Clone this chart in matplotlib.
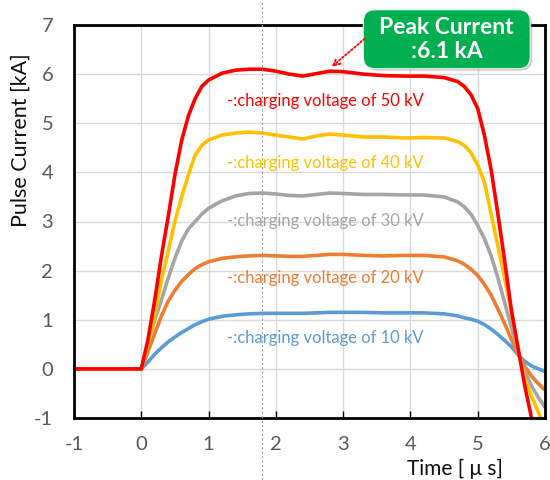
import matplotlib
matplotlib.use("Agg")
import matplotlib.pyplot as plt
from matplotlib.patches import FancyBboxPatch
from matplotlib.lines import Line2D

plt.rcParams['font.family'] = ['Lato', 'DejaVu Sans']

# ---- data ----
time_us = [-1.0, 0.0, 0.1, 0.2, 0.3, 0.4, 0.5, 0.6, 0.7, 0.8, 0.9, 1.0, 1.2, 1.4, 1.6,
           1.8, 2.0, 2.2, 2.4, 2.6, 2.8, 3.0, 3.3, 3.6, 3.9, 4.2, 4.5, 4.7, 4.8, 4.9,
           5.0, 5.1, 5.2, 5.3, 5.4, 5.5, 5.6, 5.7, 5.8, 5.9, 6.0]

i_50kv = [0, 0, 0.6, 1.4, 2.3, 3.1, 3.95, 4.65, 5.15, 5.5, 5.75, 5.88, 6.02, 6.08, 6.1,
          6.1, 6.06, 6.0, 5.96, 6.01, 6.06, 6.05, 6.0, 5.97, 5.96, 5.96, 5.93, 5.85, 5.75, 5.58,
          5.3, 4.75, 4.05, 3.15, 2.2, 1.2, 0.42, -0.35, -1.0, -1.6, -2.1]
i_40kv = [0, 0, 0.5, 1.1, 1.8, 2.4, 3.0, 3.5, 3.95, 4.35, 4.55, 4.66, 4.76, 4.8, 4.82,
          4.8, 4.76, 4.72, 4.68, 4.74, 4.78, 4.76, 4.72, 4.72, 4.7, 4.71, 4.7, 4.63, 4.55, 4.4,
          4.15, 3.8, 3.15, 2.5, 1.85, 1.15, 0.4, -0.2, -0.55, -0.88, -1.2]
i_30kv = [0, 0, 0.5, 1.0, 1.4, 1.85, 2.25, 2.6, 2.85, 3.0, 3.15, 3.27, 3.42, 3.52, 3.57,
          3.58, 3.56, 3.53, 3.52, 3.55, 3.58, 3.57, 3.55, 3.55, 3.54, 3.54, 3.5, 3.4, 3.3, 3.15,
          2.92, 2.65, 2.3, 1.85, 1.35, 0.85, 0.35, -0.05, -0.35, -0.58, -0.78]
i_20kv = [0, 0, 0.35, 0.72, 1.08, 1.38, 1.6, 1.78, 1.92, 2.04, 2.12, 2.18, 2.25, 2.28, 2.3,
          2.31, 2.3, 2.29, 2.29, 2.31, 2.33, 2.33, 2.31, 2.3, 2.31, 2.31, 2.28, 2.2, 2.13, 2.03,
          1.9, 1.72, 1.5, 1.22, 0.92, 0.6, 0.3, 0.05, -0.15, -0.3, -0.43]
i_10kv = [0, 0, 0.14, 0.3, 0.43, 0.55, 0.65, 0.74, 0.82, 0.9, 0.96, 1.01, 1.07, 1.1, 1.12,
          1.13, 1.13, 1.13, 1.13, 1.14, 1.15, 1.15, 1.15, 1.14, 1.14, 1.14, 1.12, 1.08, 1.04, 1.01,
          0.97, 0.9, 0.81, 0.7, 0.58, 0.45, 0.29, 0.15, 0.06, 0.0, -0.05]

series_labels = ["-:charging voltage of 10 kV", "-:charging voltage of 20 kV",
                 "-:charging voltage of 30 kV", "-:charging voltage of 40 kV",
                 "-:charging voltage of 50 kV"]
series_values = [i_10kv, i_20kv, i_30kv, i_40kv, i_50kv]
series_colors = ["#5B9BD5", "#ED7D31", "#A5A5A5", "#FFC000", "#FF0000"]
label_y = [0.63, 1.84, 3.02, 4.2, 5.45]

x_ticks = [-1, 0, 1, 2, 3, 4, 5, 6]
y_ticks = [-1, 0, 1, 2, 3, 4, 5, 6, 7]
marker_time = 1.8
peak_point = (2.83, 6.15)
peak_text = "Peak Current\n:6.1 kA"

# ---- figure ----
fig = plt.figure(figsize=(5.5, 4.8), dpi=100)
ax = fig.add_axes([74 / 550, 62 / 480, 471 / 550, 393 / 480])

for vals, col, lab, ly in zip(series_values, series_colors, series_labels, label_y):
    ax.plot(time_us, vals, color=col, lw=2.6, solid_capstyle='round', zorder=3)
    ax.text(1.27, ly, lab, color=col, fontsize=11.9, ha='left', va='center', zorder=4)

ax.set_xlim(-1, 6)
ax.set_ylim(-1, 7)
ax.set_xticks(x_ticks)
ax.set_yticks(y_ticks)
ax.set_xticklabels([str(t) for t in x_ticks])
ax.set_yticklabels([str(t) for t in y_ticks])
ax.grid(True, color="#D9D9D9", lw=1.0, zorder=0)
ax.tick_params(axis='x', direction='in', length=5, width=1, color='black',
               labelsize=14.5, labelcolor='#595959', pad=13)
ax.tick_params(axis='y', length=0, labelsize=14.5, labelcolor='#595959', pad=15)
for s in ax.spines.values():
    s.set_linewidth(2)
    s.set_color('black')
    s.set_zorder(5)

# vertical dotted marker spanning the whole figure height
xf = ax.transData.transform((marker_time, 0))[0]
xf_fig = fig.transFigure.inverted().transform((xf, 0))[0]
fig.add_artist(Line2D([xf_fig, xf_fig], [0, 1], transform=fig.transFigure,
                      color='#A0A0A0', lw=0.8, ls=(0, (2, 2)), zorder=6))

# axis titles
fig.text(21 / 550, 1 - 140 / 480, "Pulse Current [kA]", rotation=90, ha='center',
         va='center', fontsize=15.5, color='#111111')
fig.text(455 / 550, 1 - 469 / 480, "Time [ μ s]", ha='center', va='center',
         fontsize=15, color='#111111')

# annotation box
bx0, by0, bw, bh = 3.30, 6.11, 2.48, 1.20
shadow = FancyBboxPatch((bx0 + 0.03, by0 - 0.04), bw, bh,
                        boxstyle="round,pad=0.0,rounding_size=0.18",
                        mutation_aspect=1.35,
                        fc='#8a8a8a', ec='none', alpha=0.45, clip_on=False, zorder=7,
                        transform=ax.transData)
box = FancyBboxPatch((bx0, by0), bw, bh,
                     boxstyle="round,pad=0.0,rounding_size=0.18",
                     mutation_aspect=1.35,
                     fc='#00B050', ec='#e8f5ec', lw=0.8, clip_on=False, zorder=8,
                     transform=ax.transData)
ax.add_patch(shadow)
ax.add_patch(box)
ax.text(bx0 + bw / 2, by0 + bh / 2, peak_text, ha='center', va='center', color='white',
        fontsize=16.5, fontweight='bold', linespacing=1.2, zorder=9, clip_on=False)
ax.annotate("", xy=peak_point, xytext=(3.32, 6.72),
            arrowprops=dict(arrowstyle='->', color='#FF0000', lw=1.3, ls=(0, (1, 1.2)),
                            shrinkA=0, shrinkB=0, mutation_scale=12),
            zorder=9, annotation_clip=False)

fig.savefig("out.png", dpi=100)
